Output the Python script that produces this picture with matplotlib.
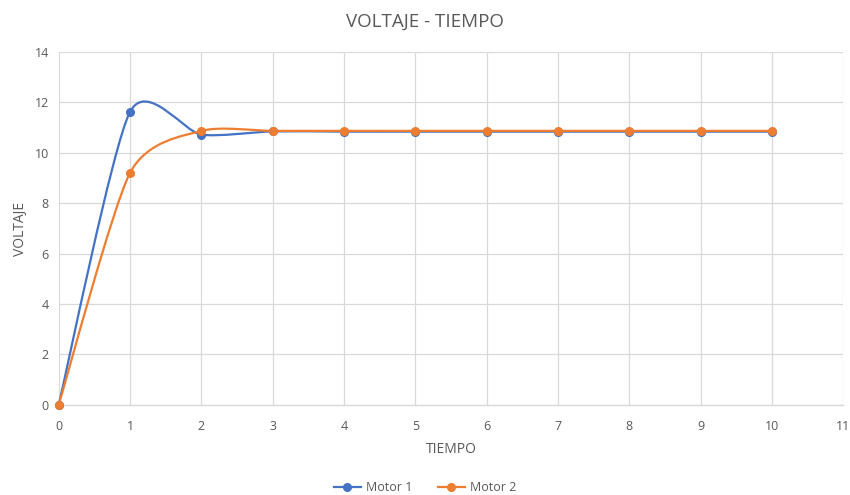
import numpy as np
import matplotlib
matplotlib.use("Agg")
import matplotlib.pyplot as plt
from matplotlib.path import Path
from matplotlib.patches import PathPatch
from matplotlib.lines import Line2D

plt.rcParams['font.family'] = ['Open Sans', 'DejaVu Sans']

tiempo = [0, 1, 2, 3, 4, 5, 6, 7, 8, 9, 10]
motor1 = [0, 11.62, 10.72, 10.85, 10.84, 10.84, 10.84, 10.84, 10.84, 10.84, 10.84]
motor2 = [0, 9.2, 10.87, 10.87, 10.87, 10.87, 10.87, 10.87, 10.87, 10.87, 10.87]

BLUE = '#4472C4'
ORANGE = '#ED7D31'
GRAY = '#595959'
GRID = '#D9D9D9'


def smooth_path(x, y, f=0.12):
    # cubic bezier through every point, spreadsheet-style smoothing
    pts = np.column_stack([x, y]).astype(float)
    n = len(pts)
    verts = [pts[0]]
    codes = [Path.MOVETO]
    for i in range(n - 1):
        p_prev = pts[i - 1] if i > 0 else pts[i]
        p_next2 = pts[i + 2] if i + 2 < n else pts[i + 1]
        c1 = pts[i] + (pts[i + 1] - p_prev) * f
        c2 = pts[i + 1] - (p_next2 - pts[i]) * f
        verts += [c1, c2, pts[i + 1]]
        codes += [Path.CURVE4] * 3
    return Path(verts, codes)


fig, ax = plt.subplots(figsize=(8.5, 4.95), dpi=100)
fig.subplots_adjust(left=0.069, right=0.992, top=0.895, bottom=0.182)

for y, color in [(motor1, BLUE), (motor2, ORANGE)]:
    ax.add_patch(PathPatch(smooth_path(tiempo, y), facecolor='none',
                           edgecolor=color, lw=1.6, capstyle='round', clip_on=False))
    ax.plot(tiempo, y, 'o', color=color, ms=5.5, zorder=3, clip_on=False)

ax.set_xlim(0, 11)
ax.set_ylim(0, 14)
ax.set_xticks(range(0, 12))
ax.set_yticks(range(0, 15, 2))
ax.grid(True, color=GRID, lw=0.9)
ax.set_axisbelow(True)
for s in ['top', 'right', 'left']:
    ax.spines[s].set_visible(False)
ax.spines['bottom'].set_color(GRID)
ax.spines['bottom'].set_linewidth(1.0)
ax.tick_params(length=0, colors=GRAY, labelsize=9, pad=7)
ax.tick_params(axis='x', pad=11)

fig.suptitle('VOLTAJE - TIEMPO', color=GRAY, fontsize=13.5, x=0.5, y=0.975)
ax.set_xlabel('TIEMPO', color=GRAY, fontsize=10, labelpad=6)
ax.set_ylabel('VOLTAJE', color=GRAY, fontsize=10, labelpad=5)

handles = [Line2D([], [], color=BLUE, marker='o', ms=5.5, lw=1.6),
           Line2D([], [], color=ORANGE, marker='o', ms=5.5, lw=1.6)]
fig.legend(handles, ['Motor 1', 'Motor 2'], loc='center', ncol=2,
           bbox_to_anchor=(0.5, 0.015), frameon=False, fontsize=9,
           labelcolor=GRAY, handlelength=2.2, columnspacing=2.0, handletextpad=0.4)

fig.savefig('out.png', dpi=100)
